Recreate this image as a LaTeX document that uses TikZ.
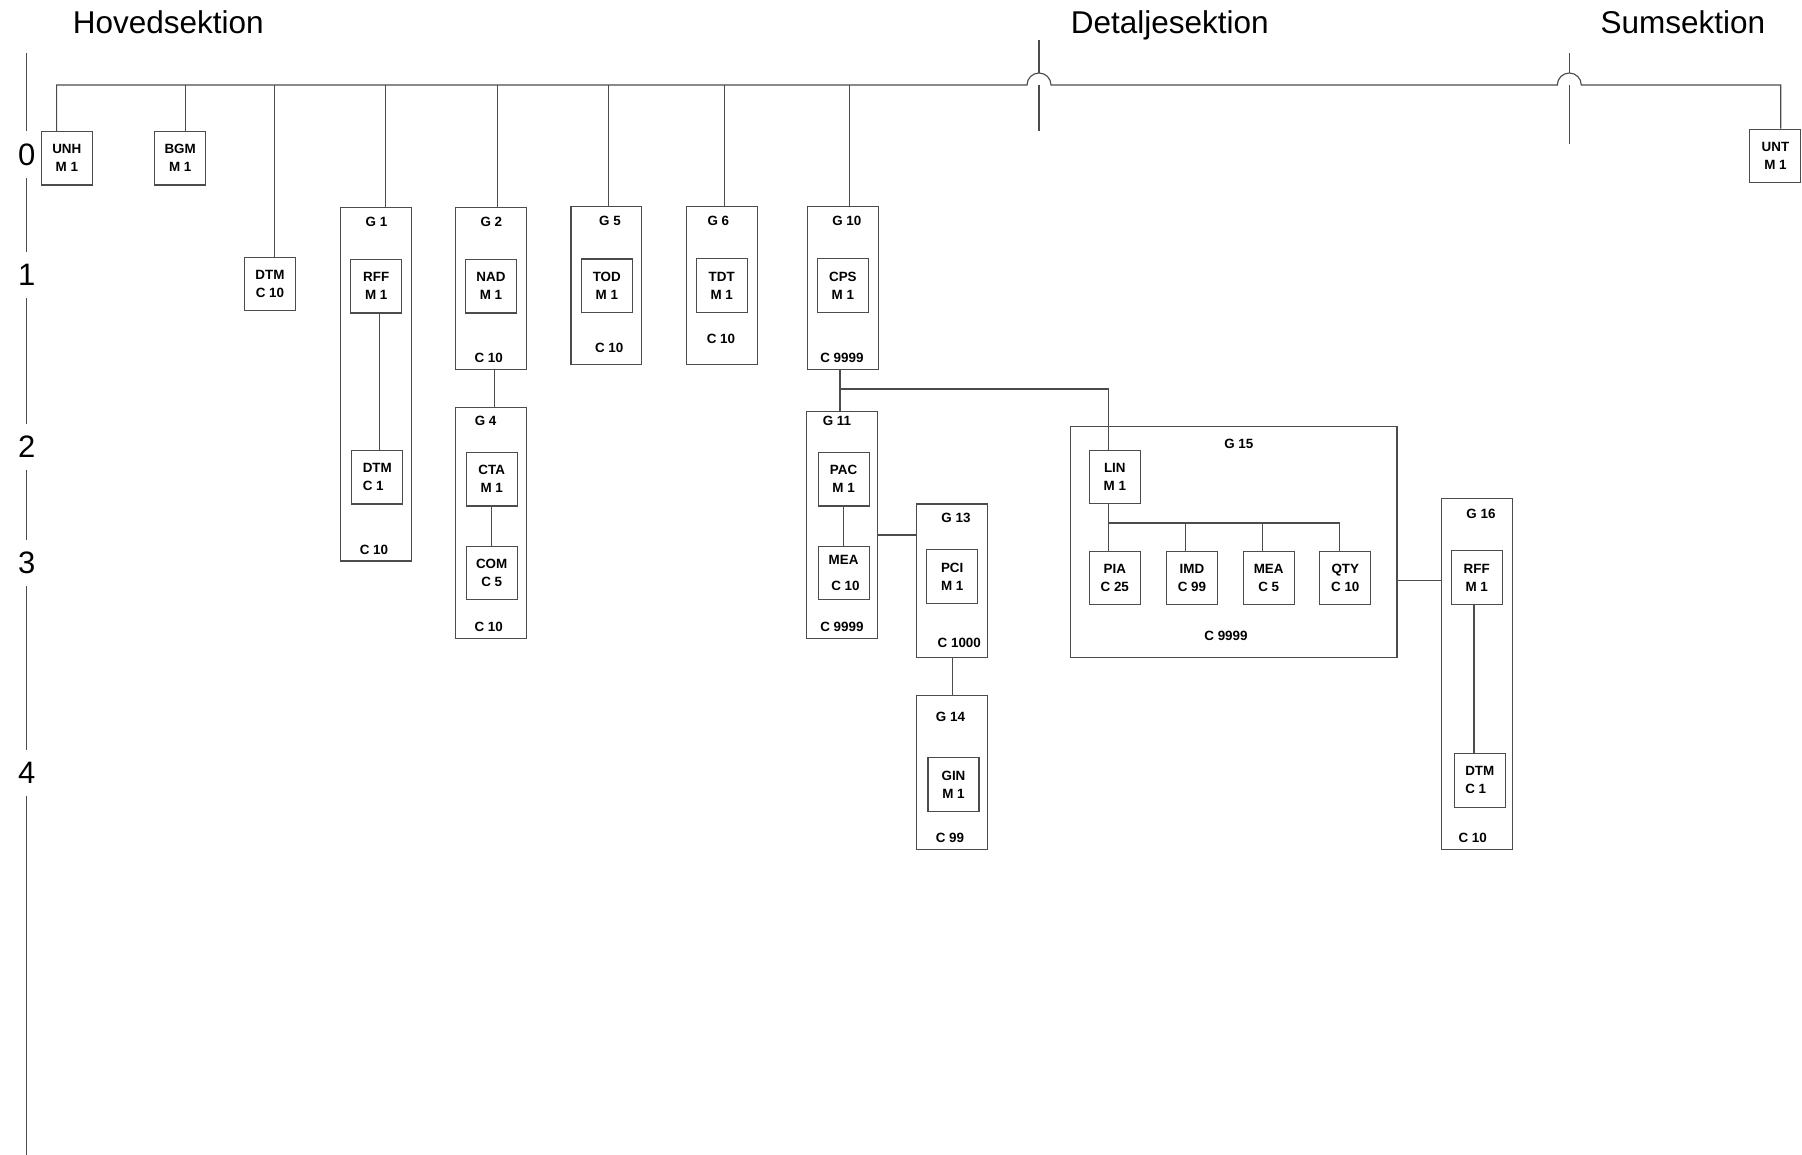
\documentclass[tikz,border=0pt]{standalone}
\usepackage{fontspec}
\setmainfont{Liberation Sans}
\newcommand\smlfont{\bfseries\fontsize{13.4}{18}\selectfont}
\newcommand\hdrfont{\fontsize{31.5}{36}\selectfont}
\newcommand\lvlfont{\fontsize{31}{36}\selectfont}
\begin{document}
\begin{tikzpicture}[x=1pt,y=-1pt,
  ln/.style={draw=black!70, line width=1.15pt},
  seg/.style={ln, fill=white, minimum width=51pt, minimum height=53.5pt, inner sep=0pt, align=center, font=\smlfont},
  segl/.style={seg, align=left},
  grp/.style={ln, inner sep=0pt},
  lbl/.style={font=\smlfont, inner sep=0pt},
  hdr/.style={font=\hdrfont, inner sep=0pt, anchor=base west},
  lvl/.style={font=\lvlfont, fill=white, inner xsep=2pt, inner ysep=12pt}
]
\fill[white] (0,0) rectangle (1802,1155);
\useasboundingbox (0,0) rectangle (1802,1155);

% headers
\node[hdr] (hh) at (72.7,33.3) {Hovedsektion};
\node[hdr] (hd) at (1070.7,33.3) {Detaljesektion};
\node[hdr] (hs) at (1600.4,33.3) {Sumsektion};

% level axis
\coordinate (axtop) at (26.8,53.3);
\coordinate (axbot) at (26.8,1155);
\node[lvl] (l0) at (26.8,154.6) {0};
\node[lvl] (l1) at (26.8,275) {1};
\node[lvl] (l2) at (26.8,447) {2};
\node[lvl] (l3) at (26.8,563) {3};
\node[lvl] (l4) at (26.8,773) {4};
\draw[ln] (axtop) -- (l0.north) (l0.south) -- (l1.north) (l1.south) -- (l2.north)
  (l2.south) -- (l3.north) (l3.south) -- (l4.north) (l4.south) -- (axbot);

% groups
\node[grp, minimum width=70.8pt, minimum height=353.7pt] (g1) at (376,384.2) {};
\node[grp, minimum width=71.2pt, minimum height=162pt] (g2) at (491,288.3) {};
\node[grp, minimum width=71.2pt, minimum height=230.6pt] (g4) at (491,523) {};
\node[grp, minimum width=70.8pt, minimum height=157.6pt] (g5) at (606.4,285.5) {};
\node[grp, minimum width=71pt, minimum height=157.6pt] (g6) at (721.8,285.5) {};
\node[grp, minimum width=71pt, minimum height=162.6pt] (g10) at (843,288) {};
\node[grp, minimum width=70.8pt, minimum height=227pt] (g11) at (841.8,524.8) {};
\node[grp, minimum width=70.7pt, minimum height=153.3pt] (g13) at (952.2,580.7) {};
\node[grp, minimum width=70.7pt, minimum height=153.6pt] (g14) at (952.2,772.5) {};
\node[grp, minimum width=326.6pt, minimum height=230.6pt] (g15) at (1233.7,542) {};
\node[grp, minimum width=71pt, minimum height=351pt] (g16) at (1476.8,673.8) {};

% group labels
\node[lbl] (g1t) at (376.5,222.3) {G 1};   \node[lbl] (g1b) at (373.9,550) {C 10};
\node[lbl] (g2t) at (491.4,222.3) {G 2};   \node[lbl] (g2b) at (488.7,358.3) {C 10};
\node[lbl] (g4t) at (485.6,421) {G 4};     \node[lbl] (g4b) at (488.7,627.3) {C 10};
\node[lbl] (g5t) at (610,221.3) {G 5};     \node[lbl] (g5b) at (609.2,348.3) {C 10};
\node[lbl] (g6t) at (718.3,221.3) {G 6};   \node[lbl] (g6b) at (721,339) {C 10};
\node[lbl] (g10t) at (846.8,221) {G 10};   \node[lbl] (g10b) at (841.9,358.3) {C 9999};
\node[lbl] (g11t) at (836.9,421) {G 11};   \node[lbl] (g11b) at (841.9,627.3) {C 9999};
\node[lbl] (g13t) at (956,518.3) {G 13};   \node[lbl] (g13b) at (959.3,642.7) {C 1000};
\node[lbl] (g14t) at (950.5,717.3) {G 14}; \node[lbl] (g14b) at (950,838.3) {C 99};
\node[lbl] (g15t) at (1238.8,444.3) {G 15}; \node[lbl] (g15b) at (1226,636) {C 9999};
\node[lbl] (g16t) at (1481,514.3) {G 16};  \node[lbl] (g16b) at (1472.7,838.3) {C 10};

% segments
\node[seg] (unh) at (66.8,158.3) {UNH\\M 1};
\node[seg] (bgm) at (180.2,158.3) {BGM\\M 1};
\node[seg] (dtmA) at (270,284) {DTM\\C 10};
\node[seg] (unt) at (1775.4,156) {UNT\\M 1};
\node[seg] (rffA) at (376.2,286.3) {RFF\\M 1};
\node[segl] (dtmB) at (377.3,477.2) {DTM\\C 1};
\node[seg] (nad) at (491,286.3) {NAD\\M 1};
\node[seg] (cta) at (491.7,479.2) {CTA\\M 1};
\node[seg] (com) at (491.7,572.9) {COM\\C 5};
\node[seg] (tod) at (606.8,285.7) {TOD\\M 1};
\node[seg] (tdt) at (721.7,285.5) {TDT\\M 1};
\node[seg] (cps) at (842.9,285.5) {CPS\\M 1};
\node[seg] (pac) at (843.6,479.2) {PAC\\M 1};
\node[seg] (meaA) at (843.6,572.9) {MEA\\[8pt]\ C 10};
\node[seg] (pci) at (952.2,576.5) {PCI\\M 1};
\node[seg] (gin) at (953.5,784.4) {GIN\\M 1};
\node[seg] (lin) at (1114.8,477) {LIN\\M 1};
\node[seg] (pia) at (1114.8,578) {PIA\\C 25};
\node[seg] (imd) at (1191.9,578) {IMD\\C 99};
\node[seg] (meaB) at (1268.7,578) {MEA\\C 5};
\node[seg] (qty) at (1345.3,578) {QTY\\C 10};
\node[seg] (rffB) at (1476.7,577.5) {RFF\\M 1};
\node[segl] (dtmC) at (1479.8,780.4) {DTM\\C 1};

% main bus with hops
\coordinate (busL) at (56.6,85);
\coordinate (busR) at (1780.8,85);
\draw[ln] ([xshift=-10.2pt]unh.north) -- (busL) -- (1027,85)
  .. controls (1027,78.4) and (1032.4,73) .. (1039,73)
  .. controls (1045.6,73) and (1051,78.4) .. (1051,85)
  -- (1557.3,85)
  .. controls (1557.3,78.4) and (1562.7,73) .. (1569.3,73)
  .. controls (1575.9,73) and (1581.3,78.4) .. (1581.3,85)
  -- (busR) -- ([xshift=5.4pt]unt.north);
% section separators
\draw[ln] (1039,40) -- (1039,73) (1039,85) -- (1039,131);
\draw[ln] (1569.3,53.3) -- (1569.3,73) (1569.3,85) -- (1569.3,144.3);

% drops from bus
\draw[ln] ([xshift=5.4pt]bgm.north) -- ([xshift=5.4pt]bgm.north |- busL);
\draw[ln] ([xshift=4.8pt]dtmA.north) -- ([xshift=4.8pt]dtmA.north |- busL);
\draw[ln] ([xshift=9.8pt]g1.north) -- ([xshift=9.8pt]g1.north |- busL);
\draw[ln] ([xshift=6.9pt]g2.north) -- ([xshift=6.9pt]g2.north |- busL);
\draw[ln] ([xshift=2.4pt]g5.north) -- ([xshift=2.4pt]g5.north |- busL);
\draw[ln] ([xshift=3pt]g6.north) -- ([xshift=3pt]g6.north |- busL);
\draw[ln] ([xshift=6.5pt]g10.north) -- ([xshift=6.5pt]g10.north |- busL);

% inner connectors
\draw[ln] ([xshift=3pt]rffA.south) -- ([xshift=3pt]rffA.south |- dtmB.north);
\draw[ln] ([xshift=3.8pt]g2.south) -- ([xshift=3.8pt]g2.south |- g4.north);
\draw[ln] (cta) -- (com);
\draw[ln] (pac) -- (meaA);
\draw[ln] ([xshift=-3pt]g10.south) -- ([xshift=-3pt]g10.south |- g11.north);
\coordinate (j1) at (840,389);
\draw[ln] (j1) -| ([xshift=-6.1pt]lin.north);
\draw[ln] ([yshift=-10.2pt]g11.east) -- ([yshift=-10.2pt]g11.east -| g13.west);
\draw[ln] (g13) -- (g14);
\coordinate (j2) at (1108.7,523);
\draw[ln] ([xshift=-6.1pt]lin.south) -- ([xshift=-6.1pt]pia.north);
\draw[ln] (j2) -| ([xshift=-6.6pt]imd.north);
\draw[ln] (j2) -| ([xshift=-6.4pt]meaB.north);
\draw[ln] (j2) -| ([xshift=-6pt]qty.north);
\draw[ln] ([yshift=-38.5pt]g15.east) -- ([yshift=-38.5pt]g15.east -| g16.west);
\draw[ln] ([xshift=-2.7pt]rffB.south) -- ([xshift=-2.7pt]rffB.south |- dtmC.north);
\end{tikzpicture}
\end{document}
